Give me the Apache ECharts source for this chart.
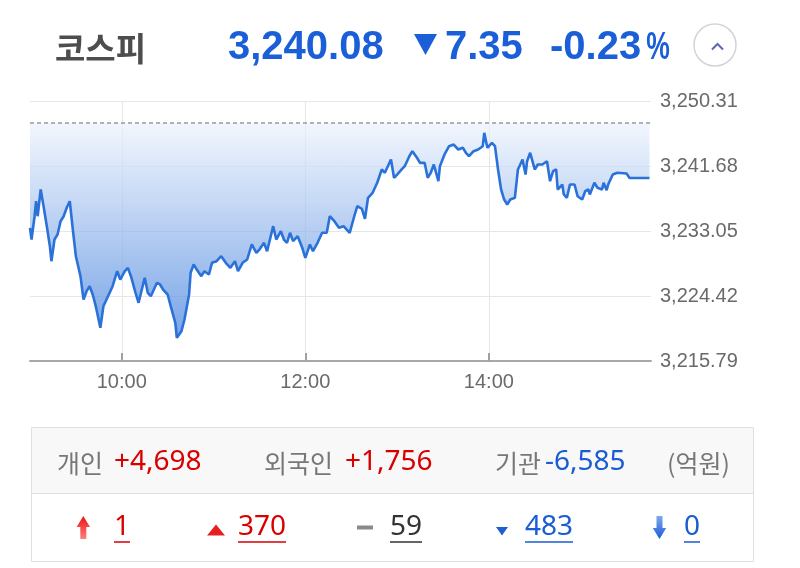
<!DOCTYPE html>
<html><head><meta charset="utf-8">
<script src="https://cdn.jsdelivr.net/npm/echarts@6/dist/echarts.min.js"></script>
<style>html,body{margin:0;padding:0;background:#fff}#c{width:800px;height:568px}</style>
</head><body><div id="c"></div>
<script>
// ---------- data ----------
const indexName = '코스피';
const lastValue = 3240.08;
const changeValue = -7.35;
const changePct = -0.23;
const prevClose = 3247.43;

const times = ['09:00','09:01','09:03','09:04','09:05','09:07','09:09','09:11','09:13','09:14','09:16','09:18','09:20','09:22','09:24','09:26','09:28','09:30','09:33','09:35','09:37','09:39','09:41','09:43','09:46','09:48','09:51','09:54','09:57','09:59','10:02','10:04','10:06','10:09','10:11','10:15','10:17','10:19','10:23','10:25','10:27','10:30','10:32','10:35','10:36','10:39','10:41','10:44','10:45','10:47','10:49','10:52','10:54','10:57','10:59','11:02','11:05','11:08','11:11','11:14','11:16','11:19','11:22','11:25','11:28','11:30','11:33','11:35','11:39','11:41','11:44','11:46','11:48','11:50','11:52','11:55','11:58','12:00','12:03','12:05','12:08','12:11','12:14','12:16','12:19','12:22','12:25','12:29','12:32','12:34','12:37','12:39','12:41','12:44','12:47','12:50','12:52','12:56','12:58','13:00','13:03','13:05','13:08','13:10','13:13','13:15','13:18','13:20','13:22','13:24','13:27','13:28','13:31','13:34','13:37','13:40','13:43','13:45','13:47','13:50','13:53','13:56','13:57','13:59','14:02','14:04','14:06','14:08','14:10','14:12','14:14','14:17','14:19','14:20','14:22','14:24','14:25','14:27','14:30','14:32','14:35','14:38','14:40','14:42','14:44','14:45','14:48','14:49','14:51','14:53','14:56','14:58','15:01','15:03','15:05','15:06','15:09','15:11','15:14','15:15','15:17','15:18','15:21','15:24','15:30','15:32','15:45'];
const values = [3233.47,3231.92,3235.01,3237.01,3235.01,3238.56,3236.17,3233.69,3231.03,3229.04,3231.92,3232.59,3234.35,3235.01,3236.13,3237.01,3233.25,3229.70,3227.05,3223.96,3225.06,3225.72,3224.62,3223.07,3220.20,3223.07,3224.39,3225.72,3227.71,3226.61,3227.71,3228.16,3227.05,3224.84,3223.52,3226.84,3224.84,3224.39,3226.17,3225.95,3225.28,3224.62,3223.07,3220.86,3218.87,3219.75,3221.30,3224.62,3227.50,3228.60,3227.94,3227.05,3227.71,3227.27,3228.83,3229.04,3229.70,3228.83,3228.16,3229.04,3227.71,3228.83,3229.27,3231.26,3230.16,3230.59,3231.48,3230.37,3233.69,3231.92,3233.02,3231.92,3231.48,3232.81,3231.70,3232.36,3230.82,3229.49,3231.26,3230.37,3231.48,3232.81,3232.81,3235.01,3234.35,3233.47,3233.69,3232.81,3235.01,3236.34,3236.00,3234.67,3237.46,3238.12,3239.45,3241.22,3240.78,3242.54,3240.11,3240.55,3241.22,3241.65,3242.98,3243.65,3242.77,3242.10,3242.10,3240.11,3240.78,3241.88,3239.66,3241.65,3243.21,3244.31,3244.53,3243.87,3244.10,3243.43,3242.98,3243.65,3243.87,3244.31,3246.09,3244.10,3244.76,3244.31,3241.22,3238.56,3237.23,3236.57,3237.23,3237.46,3241.22,3241.65,3242.54,3240.55,3242.32,3243.43,3241.22,3241.88,3241.88,3242.32,3239.66,3240.99,3241.22,3238.56,3239.22,3237.90,3237.46,3239.22,3239.22,3237.67,3237.23,3238.33,3238.56,3237.90,3239.45,3238.79,3238.56,3239.45,3238.47,3239.22,3240.55,3240.78,3240.68,3240.08,3240.08];

const yTicks = [3215.79, 3224.42, 3233.05, 3241.68, 3250.31];
const xTickLabels = ['10:00', '12:00', '14:00'];
const axisStart = '09:00';
const axisEnd = '15:46';

const investorNames = ['개인', '외국인', '기관'];
const investorValues = [4698, 1756, -6585];
const unitLabel = '(억원)';
const breadthCounts = [1, 370, 59, 483, 0]; // 상한, 상승, 보합, 하락, 하한

// ---------- helpers ----------
function toMin(s) { const p = s.split(':').map(Number); return (p[0] - 9) * 60 + p[1]; }
function fmtNum(v, d) {
  const s = Math.abs(v).toFixed(d).split('.');
  s[0] = s[0].replace(/\B(?=(\d{3})+(?!\d))/g, ',');
  return s.join('.');
}
function signed(v) { return (v > 0 ? '+' : '-') + fmtNum(v, 0); }
const mctx = document.createElement('canvas').getContext('2d');
function tw(text, font) { mctx.font = font; return mctx.measureText(text).width; }

const RED = '#d90000', BLUE = '#1a5cd2', HBLUE = '#1a5fd8', GRAY = '#777';
const numFont = '28px "Noto Sans"';
const korFont = '25px "Noto Sans CJK KR"';
const hFont = 'bold 40px "Liberation Sans"';

const chart = echarts.init(document.getElementById('c'), null, { renderer: 'canvas' });

function T(x, y, text, font, fill) {
  return { type: 'text', x: x, y: y, style: { text: text, font: font, fill: fill, verticalAlign: 'middle', textVerticalAlign: 'middle' } };
}

const graphics = [];
// header
graphics.push(T(55, 48, indexName, 'bold 33px "Noto Sans CJK KR"', '#4d4d4d'));
graphics.push(T(228, 48, fmtNum(lastValue, 2), hFont, HBLUE));
graphics.push({ type: 'polygon', shape: { points: [[414, 34], [437, 34], [425.5, 55]] }, style: { fill: HBLUE } });
graphics.push(T(445, 48, fmtNum(changeValue, 2), hFont, HBLUE));
const pctText = '-' + fmtNum(changePct, 2);
graphics.push(T(550, 48, pctText, hFont, HBLUE));
const pctEl = T(550 + tw(pctText, hFont) + 5, 48, '%', 'bold 39px "Liberation Sans"', HBLUE);
pctEl.scaleX = 0.68;
graphics.push(pctEl);
graphics.push({ type: 'circle', shape: { cx: 715, cy: 45, r: 21 }, style: { fill: '#fff', stroke: '#d3d3db', lineWidth: 1.5 } });
graphics.push({ type: 'polyline', shape: { points: [[712, 49.5], [717.5, 44], [723, 49.5]] }, style: { stroke: '#5a67b2', lineWidth: 2, fill: null } });

// bottom panel
graphics.push({ type: 'rect', shape: { x: 31.5, y: 427.5, width: 722, height: 134 }, style: { fill: '#fff', stroke: '#e0e0e0', lineWidth: 1 } });
graphics.push({ type: 'rect', shape: { x: 32, y: 428, width: 721, height: 65 }, style: { fill: '#f8f8f8' } });
graphics.push({ type: 'line', shape: { x1: 31.5, y1: 493.5, x2: 753.5, y2: 493.5 }, style: { stroke: '#e0e0e0', lineWidth: 1 } });

const labelX = [57, 264, 495], valX = [114, 345, 545];
investorNames.forEach((n, i) => {
  graphics.push(T(labelX[i], 463, n, korFont, GRAY));
  graphics.push(T(valX[i], 462, signed(investorValues[i]), numFont, investorValues[i] >= 0 ? RED : BLUE));
});
graphics.push(T(667, 463, unitLabel, korFont, GRAY));

// breadth icons
graphics.push({ type: 'polygon', shape: { points: [[83.3, 516], [90, 527], [86.3, 527], [86.3, 539], [80.3, 539], [80.3, 527], [76.6, 527]] },
  style: { fill: new echarts.graphic.LinearGradient(0, 0, 0, 1, [{ offset: 0, color: '#f01010' }, { offset: 1, color: '#ff8080' }]) } });
graphics.push({ type: 'polygon', shape: { points: [[207, 535.5], [216, 524.5], [225, 535.5]] }, style: { fill: '#e52020' } });
graphics.push({ type: 'rect', shape: { x: 357, y: 525.5, width: 16, height: 4 }, style: { fill: '#8a8a8a' } });
graphics.push({ type: 'polygon', shape: { points: [[496, 527], [508, 527], [502, 535.5]] }, style: { fill: '#1f5fd0' } });
graphics.push({ type: 'polygon', shape: { points: [[656.5, 516], [662.5, 516], [662.5, 528], [666.2, 528], [659.5, 539], [652.8, 528], [656.5, 528]] },
  style: { fill: new echarts.graphic.LinearGradient(0, 0, 0, 1, [{ offset: 0, color: '#7fa8ee' }, { offset: 1, color: '#1a5cd2' }]) } });
const cntX = [114, 238, 390, 525, 684];
const cntColor = [RED, RED, '#333', BLUE, BLUE];
breadthCounts.forEach((c, i) => {
  const t = String(c);
  graphics.push(T(cntX[i], 527, t, numFont, cntColor[i]));
  const w = tw(t, numFont);
  graphics.push({ type: 'line', shape: { x1: cntX[i], y1: 542, x2: cntX[i] + w, y2: 542 }, style: { stroke: cntColor[i], lineWidth: 1.5 } });
});

const xTickVals = xTickLabels.map(toMin);
const axisLabelFont = { color: '#6a6a6a', fontSize: 20, fontFamily: 'Liberation Sans' };

const option = {
  animation: false,
  backgroundColor: '#fff',
  grid: { left: 30, right: 149, top: 101, bottom: 207, containLabel: false },
  xAxis: {
    type: 'value', min: toMin(axisStart), max: toMin(axisEnd), interval: 60,
    axisLine: { show: true, lineStyle: { color: '#a8a8a8', width: 2 } },
    axisTick: { show: true, inside: true, length: 8, customValues: xTickVals, lineStyle: { color: '#a0a0a0', width: 2 } },
    axisLabel: Object.assign({ customValues: xTickVals, margin: 11,
      formatter: v => { const h = 9 + Math.floor(v / 60), m = v % 60; return h + ':' + String(m).padStart(2, '0'); } }, axisLabelFont),
    splitLine: { show: true, lineStyle: { color: '#e6e6e6', width: 1 } }
  },
  yAxis: {
    type: 'value', position: 'right', min: yTicks[0], max: yTicks[yTicks.length - 1],
    axisLine: { show: false },
    axisTick: { show: false, customValues: yTicks },
    axisLabel: Object.assign({ customValues: yTicks, margin: 9, formatter: v => fmtNum(v, 2) }, axisLabelFont),
    splitLine: { show: true, lineStyle: { color: '#e6e6e6', width: 1 } }
  },
  series: [{
    type: 'line',
    data: times.map((t, i) => [toMin(t), values[i]]),
    showSymbol: false,
    lineStyle: { color: '#2a72d9', width: 2.6 },
    areaStyle: {
      origin: prevClose,
      color: new echarts.graphic.LinearGradient(0, 0, 0, 1, [{ offset: 0, color: '#edf3fd' }, { offset: 1, color: '#3f7edc' }])
    },
    markLine: {
      silent: true, symbol: 'none', label: { show: false },
      lineStyle: { type: [4, 3], color: '#9a9a9a', width: 1.5 },
      data: [{ yAxis: prevClose }]
    }
  }],
  graphic: graphics
};
chart.setOption(option);
</script></body></html>
